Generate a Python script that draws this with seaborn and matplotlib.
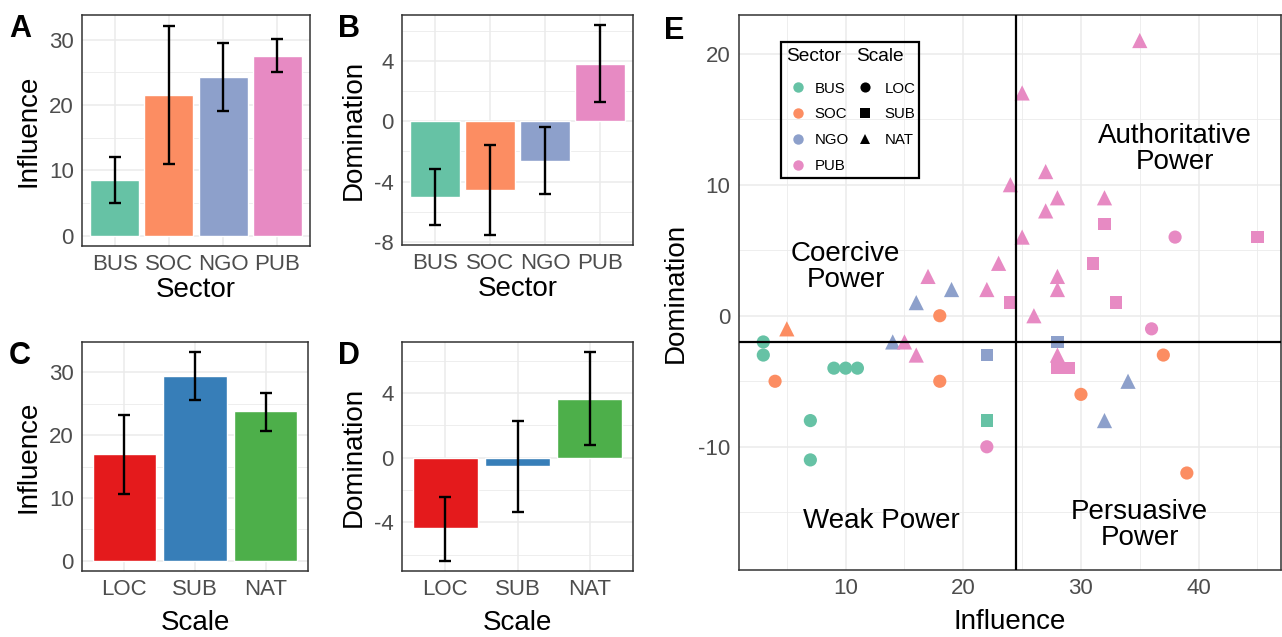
"""Influence / domination bars by sector and scale, plus the power quadrant scatter."""

import matplotlib

matplotlib.use("Agg")

import matplotlib.pyplot as plt
import numpy as np
import pandas as pd
import seaborn as sns
from matplotlib.lines import Line2D
from matplotlib.patches import Rectangle
from matplotlib.ticker import MultipleLocator

sectors = ["BUS", "SOC", "NGO", "PUB"]
scales = ["LOC", "SUB", "NAT"]
sector_colors = ["#66C2A5", "#FC8D62", "#8DA0CB", "#E78AC3"]
scale_colors = ["#E41A1C", "#377EB8", "#4DAF4A"]

# panel A / B: means with interval bounds
sector_influence = [8.5, 21.5, 24.3, 27.5]
sector_influence_lo = [5.0, 11.0, 19.1, 25.1]
sector_influence_hi = [12.0, 32.2, 29.5, 30.1]
sector_domination = [-5.0, -4.55, -2.63, 3.8]
sector_domination_lo = [-6.9, -7.5, -4.8, 1.3]
sector_domination_hi = [-3.15, -1.6, -0.38, 6.35]

# panel C / D
scale_influence = [16.95, 29.4, 23.8]
scale_influence_lo = [10.7, 25.6, 20.7]
scale_influence_hi = [23.15, 33.2, 26.8]
scale_domination = [-4.37, -0.53, 3.63]
scale_domination_lo = [-6.36, -3.38, 0.8]
scale_domination_hi = [-2.42, 2.26, 6.5]

# panel E: one entry per organisation
point_sector = [
    "BUS", "BUS", "BUS", "BUS", "BUS", "BUS", "BUS", "BUS",
    "SOC", "SOC", "SOC", "SOC", "SOC", "SOC", "SOC",
    "NGO", "NGO", "NGO", "NGO", "NGO", "NGO", "NGO",
    "PUB", "PUB", "PUB", "PUB", "PUB", "PUB", "PUB", "PUB", "PUB",
    "PUB", "PUB", "PUB", "PUB", "PUB", "PUB", "PUB", "PUB",
    "PUB", "PUB", "PUB", "PUB", "PUB", "PUB", "PUB",
    "PUB", "PUB", "PUB",
]
point_scale = [
    "LOC", "LOC", "LOC", "LOC", "LOC", "LOC", "LOC", "SUB",
    "LOC", "LOC", "LOC", "LOC", "LOC", "LOC", "NAT",
    "NAT", "NAT", "NAT", "NAT", "NAT", "SUB", "SUB",
    "NAT", "NAT", "NAT", "NAT", "NAT", "NAT", "NAT", "NAT", "NAT",
    "NAT", "NAT", "NAT", "NAT", "NAT", "NAT", "NAT", "NAT",
    "SUB", "SUB", "SUB", "SUB", "SUB", "SUB", "SUB",
    "LOC", "LOC", "LOC",
]
point_influence = [
    3, 3, 9, 10, 11, 7, 7, 22,
    18, 4, 18, 37, 30, 39, 5,
    16, 19, 14, 34, 32, 22, 28,
    35, 25, 27, 24, 28, 32, 27, 25, 23,
    17, 28, 22, 28, 26, 15, 16, 28,
    32, 45, 31, 24, 33, 28, 29,
    38, 36, 22,
]
point_domination = [
    -2, -3, -4, -4, -4, -8, -11, -8,
    0, -5, -5, -3, -6, -12, -1,
    1, 2, -2, -5, -8, -3, -2,
    21, 17, 11, 10, 9, 9, 8, 6, 4,
    3, 3, 2, 2, 0, -2, -3, -3,
    7, 6, 4, 1, 1, -4, -4,
    6, -1, -10,
]
influence_split = 24.5
domination_split = -2

GRID = "#EBEBEB"
BORDER = "#333333"
TICK_TEXT = "#4D4D4D"


def style_axes(ax, minor_step):
    ax.set_axisbelow(True)
    ax.yaxis.set_minor_locator(MultipleLocator(minor_step))
    ax.grid(which="major", color=GRID, lw=1.1)
    ax.grid(which="minor", axis="y", color=GRID, lw=0.6)
    for spine in ax.spines.values():
        spine.set_color(BORDER)
        spine.set_linewidth(1.1)
    ax.tick_params(which="major", length=4, width=1.1, color=BORDER,
                   labelcolor=TICK_TEXT, labelsize=16, pad=2)
    ax.tick_params(which="minor", length=0)


def bar_panel(ax, cats, means, lo, hi, colors, xlabel, ylabel, major_step, xpad):
    frame = pd.DataFrame({"cat": cats, "mean": means, "lo": lo, "hi": hi})
    sns.barplot(data=frame, x="cat", y="mean", hue="cat", palette=colors,
                saturation=1, width=0.9, errorbar=None, legend=False, ax=ax)
    ax.errorbar(np.arange(len(cats)), frame["mean"],
                yerr=[frame["mean"] - frame["lo"], frame["hi"] - frame["mean"]],
                fmt="none", ecolor="black", elinewidth=1.7, capsize=4, capthick=1.7,
                zorder=3)
    low = min(frame["lo"].min(), 0)
    high = max(frame["hi"].max(), 0)
    span = high - low
    ax.set_ylim(low - 0.05 * span, high + 0.05 * span)
    ax.set_xlim(-0.6, len(cats) - 0.4)
    ax.yaxis.set_major_locator(MultipleLocator(major_step))
    style_axes(ax, major_step / 2)
    ax.set_xlabel(xlabel, fontsize=20, labelpad=xpad)
    ax.set_ylabel(ylabel, fontsize=20, labelpad=5)


sns.set_theme(style="white")
plt.rcParams["font.family"] = ["Liberation Sans", "DejaVu Sans"]
plt.rcParams["axes.unicode_minus"] = False
plt.rcParams["text.color"] = "black"
plt.rcParams["axes.labelcolor"] = "black"

fig = plt.figure(figsize=(12.82, 6.37), dpi=100)
ax_a = fig.add_axes([0.0640, 0.6138, 0.1778, 0.3626])
ax_b = fig.add_axes([0.3136, 0.6154, 0.1802, 0.3611])
ax_c = fig.add_axes([0.0640, 0.1036, 0.1763, 0.3595])
ax_d = fig.add_axes([0.3136, 0.1036, 0.1802, 0.3595])
ax_e = fig.add_axes([0.5764, 0.1052, 0.4228, 0.8713])

bar_panel(ax_a, sectors, sector_influence, sector_influence_lo, sector_influence_hi,
          sector_colors, "Sector", "Influence", 10, 1)
bar_panel(ax_b, sectors, sector_domination, sector_domination_lo, sector_domination_hi,
          sector_colors, "Sector", "Domination", 4, 1)
bar_panel(ax_c, scales, scale_influence, scale_influence_lo, scale_influence_hi,
          scale_colors, "Scale", "Influence", 10, 7)
bar_panel(ax_d, scales, scale_domination, scale_domination_lo, scale_domination_hi,
          scale_colors, "Scale", "Domination", 4, 7)

# panel E
points = pd.DataFrame({
    "sector": point_sector,
    "scale": point_scale,
    "influence": point_influence,
    "domination": point_domination,
})
shape_of = {"LOC": "o", "SUB": "s", "NAT": "^"}
size_of = {"LOC": 90, "SUB": 80, "NAT": 120}
sns.scatterplot(data=points, x="influence", y="domination", hue="sector",
                hue_order=sectors, palette=sector_colors, style="scale",
                markers=shape_of, size="scale", sizes=size_of, linewidth=0,
                alpha=1, legend=False, ax=ax_e, zorder=3)
ax_e.axvline(influence_split, color="black", lw=1.6, zorder=4)
ax_e.axhline(domination_split, color="black", lw=1.6, zorder=4)
ax_e.set_xlim(0.93, 47.0)
ax_e.set_ylim(-19.4, 22.95)
ax_e.xaxis.set_major_locator(MultipleLocator(10))
ax_e.xaxis.set_minor_locator(MultipleLocator(5))
ax_e.yaxis.set_major_locator(MultipleLocator(10))
style_axes(ax_e, 5)
ax_e.grid(which="minor", axis="x", color=GRID, lw=0.6)
ax_e.set_xlabel("Influence", fontsize=20, labelpad=7)
ax_e.set_ylabel("Domination", fontsize=20, labelpad=7)

quadrants = [
    (38, 12.7, "Authoritative\nPower"),
    (10, 3.7, "Coercive\nPower"),
    (13, -15.7, "Weak Power"),
    (35, -16.0, "Persuasive\nPower"),
]
for qx, qy, label in quadrants:
    ax_e.text(qx, qy, label, ha="center", va="center", fontsize=20,
              linespacing=1.0, zorder=5)

# two side-by-side keys inside one frame, as in the ggplot version
legend_kw = dict(loc="upper left", bbox_transform=ax_e.transData, frameon=False,
                 fontsize=10.8, borderpad=0, borderaxespad=0, handlelength=1.2,
                 labelspacing=0.78)
sector_handles = [Line2D([], [], ls="", marker="o", markersize=7.5,
                         markerfacecolor=c, markeredgewidth=0) for c in sector_colors]
scale_handles = [Line2D([], [], ls="", marker=shape_of[s], markersize=7.3,
                        markerfacecolor="black", markeredgewidth=0) for s in scales]
leg_sector = ax_e.legend(sector_handles, sectors, bbox_to_anchor=(5.19, 17.86),
                         handletextpad=0.51, **legend_kw)
ax_e.add_artist(leg_sector)
leg_scale = ax_e.legend(scale_handles, scales, bbox_to_anchor=(10.9, 17.86),
                        handletextpad=0.69, **legend_kw)
for leg in (leg_sector, leg_scale):
    leg.set_zorder(6)
ax_e.text(4.96, 19.75, "Sector", ha="left", va="center", fontsize=13.8, zorder=6)
ax_e.text(10.85, 19.75, "Scale", ha="left", va="center", fontsize=13.8, zorder=6)
ax_e.add_patch(Rectangle((4.5, 10.51), 11.7, 10.35, fill=False, ec="black",
                         lw=1.6, zorder=6))

for letter, lx, ly in [("A", 9, 14), ("B", 338, 14), ("C", 9, 341),
                       ("D", 338, 341), ("E", 664, 16)]:
    fig.text(lx / 1282, 1 - ly / 637, letter, fontsize=22, fontweight="bold",
             va="top", ha="left")

fig.savefig("out.png", dpi=100)
plt.close(fig)
